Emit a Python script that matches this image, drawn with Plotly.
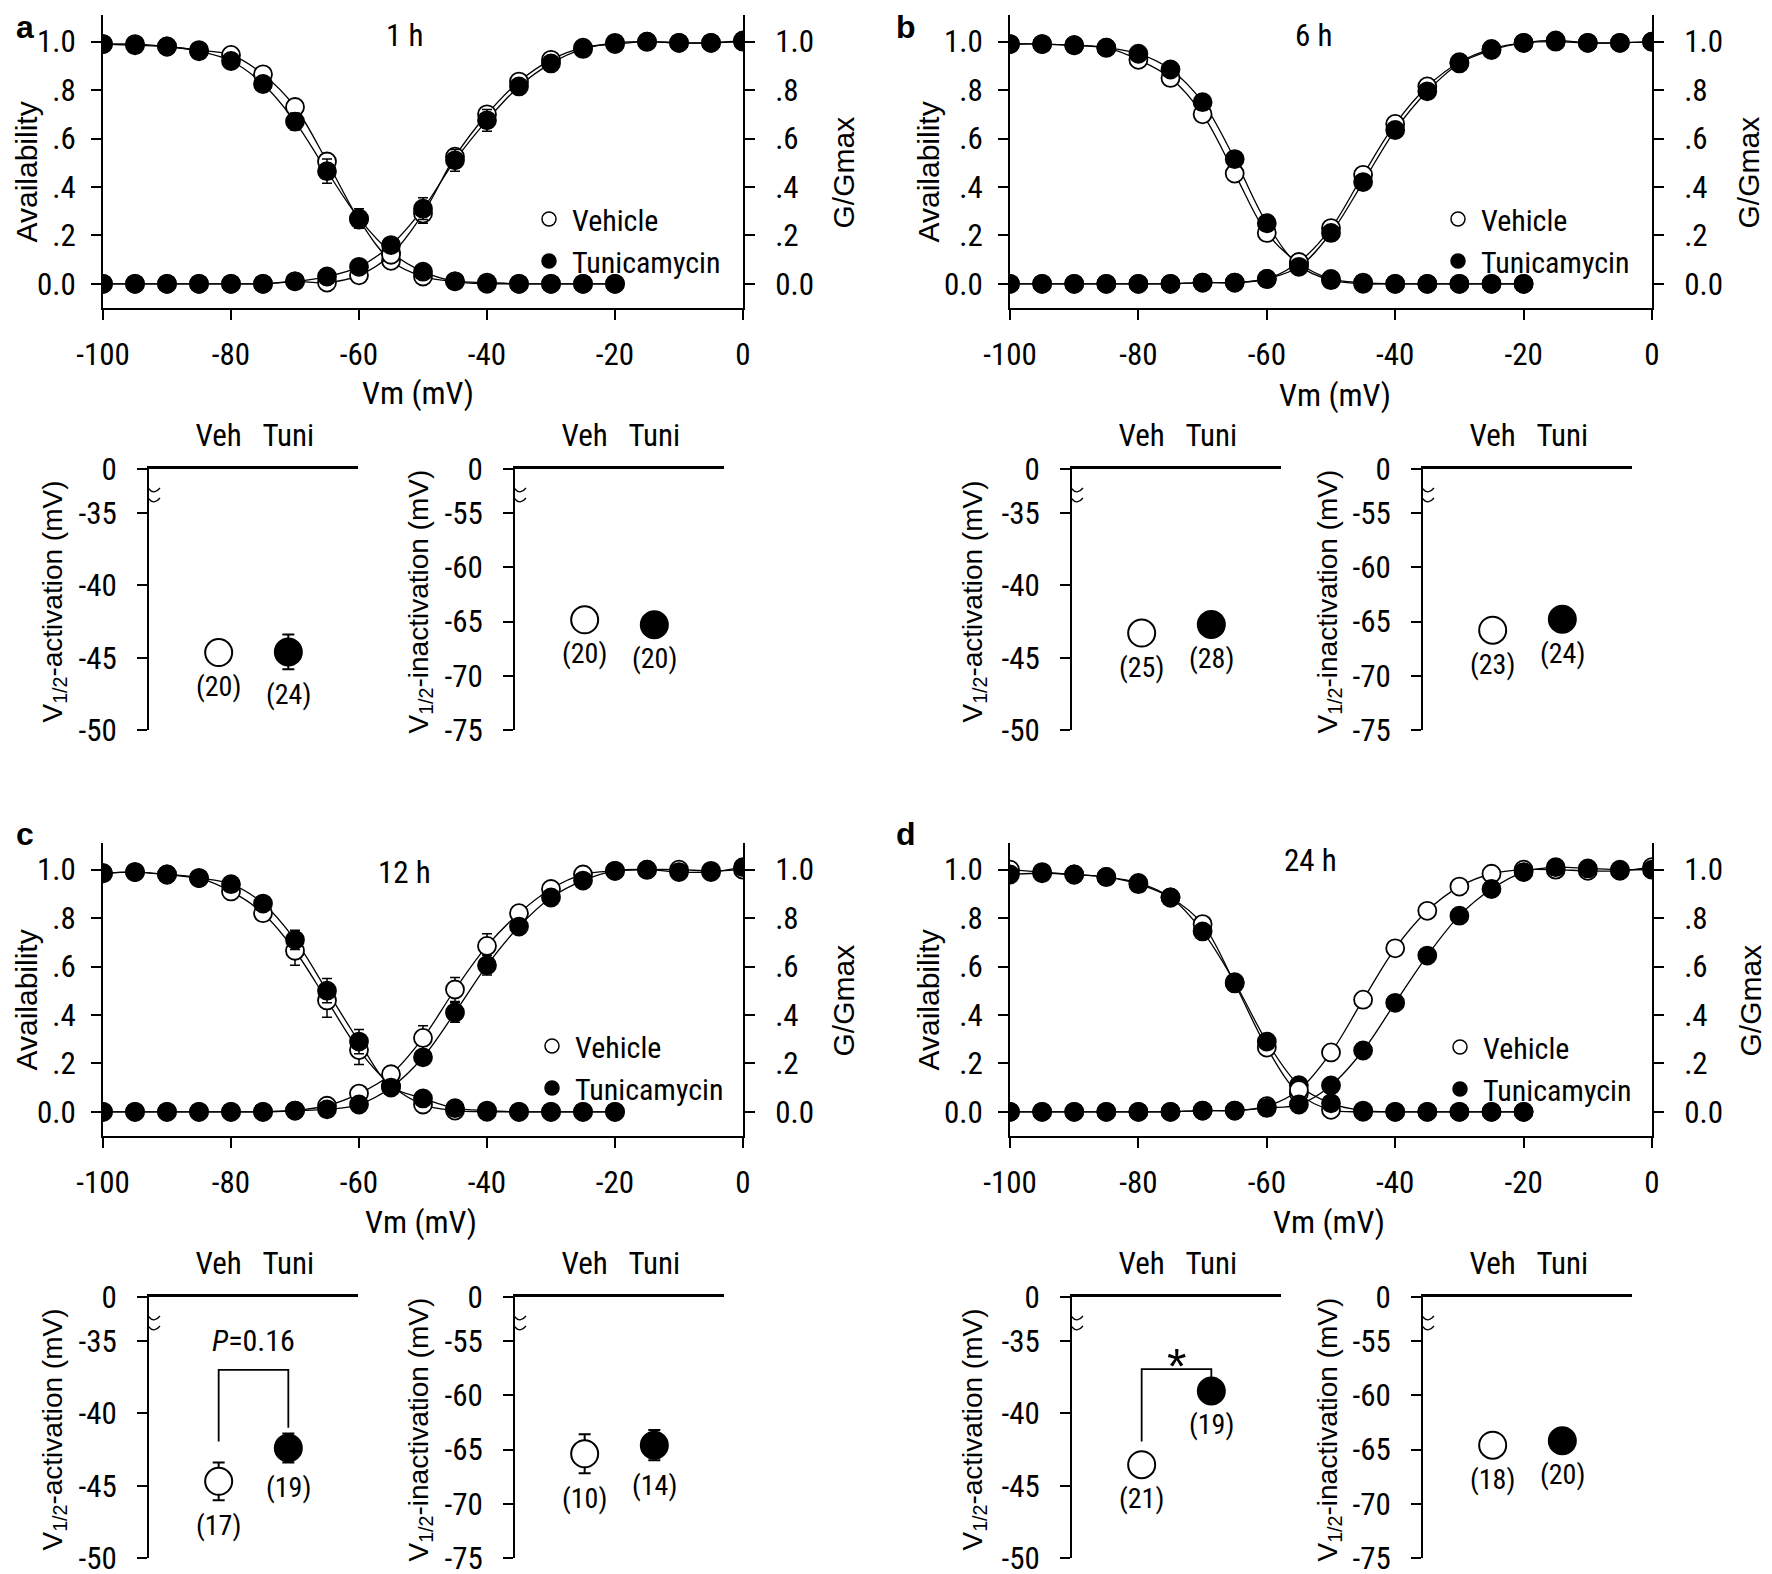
import plotly.graph_objects as go

W, H = 1772, 1574
OFF = 8  # page body margin of the saved html page
NARROW = "'Roboto Condensed', 'DejaVu Sans Condensed', 'Liberation Sans', sans-serif"
REG = "'Liberation Sans', Arial, sans-serif"

# ---------------- data: steady-state curves ----------------
V_INACT = [-100, -95, -90, -85, -80, -75, -70, -65, -60, -55, -50, -45, -40, -35, -30, -25, -20]
V_ACT = [-100, -95, -90, -85, -80, -75, -70, -65, -60, -55, -50, -45, -40, -35, -30, -25, -20, -15, -10, -5, 0]
X_TICKS = [-100, -80, -60, -40, -20, 0]
X_TICKTEXT = ["-100", "-80", "-60", "-40", "-20", "0"]
Y_TICKS = [0.0, 0.2, 0.4, 0.6, 0.8, 1.0]
Y_TICKTEXT = ["0.0", ".2", ".4", ".6", ".8", "1.0"]

# 1 h
inact_veh_1h = [0.99, 0.99, 0.98, 0.965, 0.945, 0.865, 0.73, 0.505, 0.265, 0.095, 0.03, 0.01, 0.005, 0, 0, 0, 0]
inact_veh_1h_err = [0, 0, 0, 0, 0, 0, 0.02, 0.03, 0.035, 0, 0, 0, 0, 0, 0, 0, 0]
inact_tuni_1h = [0.99, 0.985, 0.98, 0.96, 0.92, 0.825, 0.67, 0.465, 0.27, 0.13, 0.05, 0.01, 0.0, 0, 0, 0, 0]
inact_tuni_1h_err = [0, 0, 0, 0, 0, 0.015, 0.035, 0.05, 0.04, 0, 0, 0, 0, 0, 0, 0, 0]
act_veh_1h = [0, 0, 0, 0, 0, 0, 0.01, 0.005, 0.035, 0.12, 0.29, 0.525, 0.70, 0.835, 0.925, 0.975, 0.99, 1.0, 0.995, 0.995, 1.0]
act_veh_1h_err = [0, 0, 0, 0, 0, 0, 0, 0, 0, 0, 0.04, 0.03, 0.02, 0.01, 0, 0, 0, 0, 0, 0, 0]
act_tuni_1h = [0, 0, 0, 0, 0, 0, 0.01, 0.03, 0.07, 0.16, 0.31, 0.51, 0.675, 0.815, 0.91, 0.97, 0.995, 1.0, 0.995, 0.995, 1.005]
act_tuni_1h_err = [0, 0, 0, 0, 0, 0, 0, 0, 0, 0, 0.045, 0.045, 0.045, 0.03, 0.01, 0, 0, 0, 0, 0, 0]

# 6 h
inact_veh_6h = [0.99, 0.99, 0.985, 0.975, 0.925, 0.85, 0.70, 0.455, 0.21, 0.085, 0.02, 0.005, 0, 0, 0, 0, 0]
inact_veh_6h_err = [0] * 17
inact_tuni_6h = [0.99, 0.99, 0.985, 0.975, 0.95, 0.885, 0.75, 0.515, 0.25, 0.075, 0.015, 0.0, 0, 0, 0, 0, 0]
inact_tuni_6h_err = [0] * 17
act_veh_6h = [0, 0, 0, 0, 0, 0, 0.005, 0.005, 0.02, 0.09, 0.23, 0.45, 0.66, 0.815, 0.915, 0.97, 0.995, 1.0, 0.995, 0.995, 1.0]
act_veh_6h_err = [0] * 21
act_tuni_6h = [0, 0, 0, 0, 0, 0, 0.005, 0.005, 0.02, 0.07, 0.21, 0.42, 0.635, 0.795, 0.91, 0.965, 0.995, 1.005, 0.995, 0.995, 1.0]
act_tuni_6h_err = [0] * 21

# 12 h
inact_veh_12h = [0.985, 0.99, 0.98, 0.965, 0.91, 0.82, 0.665, 0.46, 0.255, 0.11, 0.03, 0.005, 0, 0, 0, 0, 0]
inact_veh_12h_err = [0, 0, 0, 0, 0.01, 0.03, 0.06, 0.07, 0.06, 0, 0, 0, 0, 0, 0, 0, 0]
inact_tuni_12h = [0.985, 0.99, 0.98, 0.965, 0.94, 0.86, 0.71, 0.50, 0.29, 0.105, 0.055, 0.015, 0.005, 0, 0, 0, 0]
inact_tuni_12h_err = [0, 0, 0, 0, 0.01, 0.02, 0.04, 0.05, 0.05, 0, 0, 0, 0, 0, 0, 0, 0]
act_veh_12h = [0, 0, 0, 0, 0, 0, 0.005, 0.025, 0.075, 0.155, 0.305, 0.505, 0.685, 0.82, 0.92, 0.98, 0.995, 1.0, 1.0, 0.995, 1.0]
act_veh_12h_err = [0, 0, 0, 0, 0, 0, 0, 0, 0, 0.03, 0.05, 0.05, 0.05, 0.03, 0.01, 0, 0, 0, 0, 0, 0]
act_tuni_12h = [0, 0, 0, 0, 0, 0, 0.005, 0.01, 0.03, 0.10, 0.225, 0.41, 0.605, 0.765, 0.885, 0.955, 0.995, 1.0, 0.99, 0.99, 1.01]
act_tuni_12h_err = [0, 0, 0, 0, 0, 0, 0, 0, 0, 0, 0.02, 0.04, 0.04, 0.03, 0.01, 0, 0, 0, 0, 0, 0]

# 24 h
inact_veh_24h = [1.0, 0.99, 0.98, 0.97, 0.94, 0.885, 0.775, 0.53, 0.265, 0.075, 0.008, 0.0, 0, 0, 0, 0, 0]
inact_veh_24h_err = [0, 0, 0, 0, 0, 0, 0.01, 0.03, 0.03, 0, 0, 0, 0, 0, 0, 0, 0]
inact_tuni_24h = [0.98, 0.985, 0.98, 0.97, 0.945, 0.885, 0.745, 0.535, 0.29, 0.11, 0.035, 0.005, 0, 0, 0, 0, 0]
inact_tuni_24h_err = [0, 0, 0, 0, 0, 0, 0.015, 0.03, 0.03, 0, 0, 0, 0, 0, 0, 0, 0]
act_veh_24h = [0, 0, 0, 0, 0, 0, 0.005, 0.005, 0.023, 0.09, 0.245, 0.463, 0.675, 0.83, 0.93, 0.983, 1.0, 1.0, 0.995, 0.995, 1.01]
act_veh_24h_err = [0, 0, 0, 0, 0, 0, 0, 0, 0, 0, 0.02, 0.03, 0.02, 0.01, 0, 0, 0, 0, 0, 0, 0]
act_tuni_24h = [0, 0, 0, 0, 0, 0, 0.005, 0.005, 0.016, 0.03, 0.109, 0.253, 0.45, 0.645, 0.81, 0.92, 0.99, 1.01, 1.005, 1.0, 1.0]
act_tuni_24h_err = [0, 0, 0, 0, 0, 0, 0, 0, 0, 0, 0.01, 0.015, 0.015, 0.01, 0.01, 0, 0, 0, 0, 0, 0]

# ---------------- data: V1/2 summaries ----------------
GROUPS = ["Veh", "Tuni"]
GROUP_POS = [1, 2]
ACT_TICKS = [-50, -45, -40, -35]
INACT_TICKS = [-75, -70, -65, -60, -55]

v_act_1h = [-44.65, -44.6];   v_act_1h_err = [0.6, 1.2];   n_act_1h = ["(20)", "(24)"]
v_inact_1h = [-64.85, -65.3]; v_inact_1h_err = [0.6, 0.6]; n_inact_1h = ["(20)", "(20)"]
v_act_6h = [-43.3, -42.7];    v_act_6h_err = [0.6, 0.6];   n_act_6h = ["(25)", "(28)"]
v_inact_6h = [-65.8, -64.8];  v_inact_6h_err = [0.8, 0.8]; n_inact_6h = ["(23)", "(24)"]
v_act_12h = [-44.7, -42.4];   v_act_12h_err = [1.3, 1.0];  n_act_12h = ["(17)", "(19)"]
v_inact_12h = [-65.4, -64.6]; v_inact_12h_err = [1.8, 1.4]; n_inact_12h = ["(10)", "(14)"]
v_act_24h = [-43.55, -38.45]; v_act_24h_err = [0.6, 0.6]; n_act_24h = ["(21)", "(19)"]
v_inact_24h = [-64.6, -64.2]; v_inact_24h_err = [0.8, 0.8]; n_inact_24h = ["(18)", "(20)"]

# significance annotations: [label, bracket level, left leg end, right leg end]
sig_12h = ["<i>P</i>=0.16", -37.0, -41.95, -41.0]
sig_24h = ["*", -36.95, -41.95, -37.6]

# ---------------- layout helpers ----------------
layout = dict(width=W, height=H, margin=dict(l=0, r=0, t=0, b=0, pad=0, autoexpand=False), autosize=False,
              paper_bgcolor="white", plot_bgcolor="rgba(0,0,0,0)", showlegend=True,
              shapes=[], annotations=[])
axis_count = {"x": 0, "y": 0}


def new_axis(kind):
    axis_count[kind] += 1
    n = axis_count[kind]
    ref = kind if n == 1 else f"{kind}{n}"
    key = f"{kind}axis" if n == 1 else f"{kind}axis{n}"
    return ref, key


def fx(x):
    return (x - OFF) / W


def fy(y):
    return 1 - (y - OFF) / H


def dom_x(x0, x1):
    return [fx(x0), fx(x1)]


def dom_y(y0, y1):
    return [fy(y1), fy(y0)]


def ann(text, x, y, size, family=NARROW, angle=0, xanchor="center", yanchor="middle"):
    layout["annotations"].append(dict(text=text, x=fx(x), y=fy(y), xref="paper", yref="paper",
                                      showarrow=False, textangle=angle, xanchor=xanchor, yanchor=yanchor,
                                      font=dict(size=size, family=family, color="black")))


AX_COMMON = dict(showgrid=False, zeroline=False, showline=True, linecolor="black", linewidth=2,
                 ticks="outside", ticklen=10, tickwidth=2, tickcolor="black", automargin=False,
                 tickfont=dict(family=NARROW, size=31, color="black"), fixedrange=True)

fig = go.Figure()

MAIN = [
    dict(letter="a", title="1 h", xpx=(103, 743), ypx=(15, 308),
         letter_xy=(25, 27), title_xy=(404, 36), avail_x=26, gg_x=843, vm_xy=(418, 393), leg_xy=(548, 220),
         data=(inact_veh_1h, inact_veh_1h_err, inact_tuni_1h, inact_tuni_1h_err,
               act_veh_1h, act_veh_1h_err, act_tuni_1h, act_tuni_1h_err)),
    dict(letter="b", title="6 h", xpx=(1010, 1652), ypx=(15, 308),
         letter_xy=(906, 27), title_xy=(1313, 36), avail_x=928, gg_x=1748, vm_xy=(1335, 395), leg_xy=(1457, 220),
         data=(inact_veh_6h, inact_veh_6h_err, inact_tuni_6h, inact_tuni_6h_err,
               act_veh_6h, act_veh_6h_err, act_tuni_6h, act_tuni_6h_err)),
    dict(letter="c", title="12 h", xpx=(103, 743), ypx=(843, 1136),
         letter_xy=(25, 834), title_xy=(404, 872), avail_x=26, gg_x=843, vm_xy=(421, 1222), leg_xy=(551, 1047),
         data=(inact_veh_12h, inact_veh_12h_err, inact_tuni_12h, inact_tuni_12h_err,
               act_veh_12h, act_veh_12h_err, act_tuni_12h, act_tuni_12h_err)),
    dict(letter="d", title="24 h", xpx=(1010, 1652), ypx=(843, 1136),
         letter_xy=(906, 834), title_xy=(1310, 860), avail_x=928, gg_x=1750, vm_xy=(1329, 1222), leg_xy=(1459, 1048),
         data=(inact_veh_24h, inact_veh_24h_err, inact_tuni_24h, inact_tuni_24h_err,
               act_veh_24h, act_veh_24h_err, act_tuni_24h, act_tuni_24h_err)),
]

YR_MAIN = [-0.1, 1.11]

for i, p in enumerate(MAIN):
    xref, xkey = new_axis("x")
    yref, ykey = new_axis("y")
    y2ref, y2key = new_axis("y")
    layout[xkey] = dict(AX_COMMON, domain=dom_x(*p["xpx"]), anchor=yref, range=[-100, 0],
                        tickvals=X_TICKS, ticktext=X_TICKTEXT, ticklabelstandoff=8)
    layout[ykey] = dict(AX_COMMON, domain=dom_y(*p["ypx"]), anchor=xref, range=YR_MAIN,
                        tickvals=Y_TICKS, ticktext=Y_TICKTEXT, ticklabelstandoff=9)
    layout[y2key] = dict(AX_COMMON, overlaying=yref, side="right", anchor=xref, range=YR_MAIN,
                         tickvals=Y_TICKS, ticktext=Y_TICKTEXT, ticklabelstandoff=14)
    iv, iv_e, it, it_e, av, av_e, at, at_e = p["data"]
    curves = [(V_INACT, iv, iv_e, yref, False), (V_INACT, it, it_e, yref, True),
              (V_ACT, av, av_e, y2ref, False), (V_ACT, at, at_e, y2ref, True)]
    for xs, ys, es, yr, filled in curves:
        fig.add_trace(go.Scatter(x=xs, y=ys, mode="lines", xaxis=xref, yaxis=yr, showlegend=False,
                                 line=dict(color="black", width=1.3, shape="spline", smoothing=1.0),
                                 hoverinfo="skip"))
    for xs, ys, es, yr, filled in curves:
        fig.add_trace(go.Scatter(x=xs, y=ys, mode="markers", xaxis=xref, yaxis=yr, showlegend=False,
                                 marker=dict(size=18, color="black" if filled else "white",
                                             line=dict(color="black", width=1.8)),
                                 error_y=dict(type="data", array=es, visible=True, color="black",
                                              thickness=1.5, width=5)))
    leg = "legend" if i == 0 else f"legend{i + 1}"
    for name, filled in [("Vehicle", False), ("Tunicamycin", True)]:
        fig.add_trace(go.Scatter(x=[None], y=[None], mode="markers", xaxis=xref, yaxis=yref, name=name,
                                 legend=leg, showlegend=True,
                                 marker=dict(size=14, color="black" if filled else "white",
                                             line=dict(color="black", width=1.5))))
    lx, ly = p["leg_xy"]
    layout[leg] = dict(x=fx(lx - 22), y=fy(ly - 27), xanchor="left", yanchor="top",
                       bgcolor="rgba(0,0,0,0)", borderwidth=0, itemsizing="trace",
                       font=dict(family=NARROW, size=30, color="black"), tracegroupgap=0, itemwidth=36)
    ann(f"<b>{p['letter']}</b>", p["letter_xy"][0], p["letter_xy"][1], 32, REG)
    ann(p["title"], p["title_xy"][0], p["title_xy"][1], 31)
    ymid = (p["ypx"][0] + p["ypx"][1]) / 2 + 11
    ann("Availability", p["avail_x"], ymid, 30, REG, angle=-90)
    ann("G/Gmax", p["gg_x"], ymid, 30, REG, angle=-90)
    ann("Vm (mV)", p["vm_xy"][0], p["vm_xy"][1], 32)

# ---------------- small V1/2 panels ----------------
SMALL = [
    dict(kind="act", xpx=(149, 358), ypx=(469, 730), vals=v_act_1h, errs=v_act_1h_err, ns=n_act_1h, tx=54, sig=None),
    dict(kind="inact", xpx=(515, 724), ypx=(469, 730), vals=v_inact_1h, errs=v_inact_1h_err, ns=n_inact_1h, tx=420, sig=None),
    dict(kind="act", xpx=(1072, 1281), ypx=(469, 730), vals=v_act_6h, errs=v_act_6h_err, ns=n_act_6h, tx=974, sig=None),
    dict(kind="inact", xpx=(1423, 1632), ypx=(469, 730), vals=v_inact_6h, errs=v_inact_6h_err, ns=n_inact_6h, tx=1329, sig=None),
    dict(kind="act", xpx=(149, 358), ypx=(1297, 1558), vals=v_act_12h, errs=v_act_12h_err, ns=n_act_12h, tx=54, sig=sig_12h),
    dict(kind="inact", xpx=(515, 724), ypx=(1297, 1558), vals=v_inact_12h, errs=v_inact_12h_err, ns=n_inact_12h, tx=420, sig=None),
    dict(kind="act", xpx=(1072, 1281), ypx=(1297, 1558), vals=v_act_24h, errs=v_act_24h_err, ns=n_act_24h, tx=974, sig=sig_24h),
    dict(kind="inact", xpx=(1423, 1632), ypx=(1297, 1558), vals=v_inact_24h, errs=v_inact_24h_err, ns=n_inact_24h, tx=1329, sig=None),
]

for s in SMALL:
    ticks = ACT_TICKS if s["kind"] == "act" else INACT_TICKS
    lo, hi = ticks[0], ticks[-1]
    hpx = s["ypx"][1] - s["ypx"][0]
    scale_px = 217.0
    top = lo + (hi - lo) * hpx / scale_px
    px_per_unit = scale_px / (hi - lo)
    xref, xkey = new_axis("x")
    yref, ykey = new_axis("y")
    layout[xkey] = dict(AX_COMMON, domain=dom_x(*s["xpx"]), anchor=yref, side="top", range=[0, 3],
                        tickvals=GROUP_POS, ticktext=GROUPS, ticks="", linewidth=2.5, ticklabelstandoff=8)
    layout[ykey] = dict(AX_COMMON, domain=dom_y(*s["ypx"]), anchor=xref, range=[lo, top],
                        tickvals=ticks + [top], ticktext=[str(t) for t in ticks] + ["0"], ticklabelstandoff=14)
    fills = ["white", "black"]
    for g in range(2):
        fig.add_trace(go.Scatter(x=[GROUP_POS[g]], y=[s["vals"][g]], mode="markers", xaxis=xref, yaxis=yref,
                                 showlegend=False,
                                 marker=dict(size=27, color=fills[g], line=dict(color="black", width=2)),
                                 error_y=dict(type="data", array=[s["errs"][g]], visible=True, color="black",
                                              thickness=2, width=6)))
        shift = max(34, s["errs"][g] * px_per_unit + 25)
        layout["annotations"].append(dict(text=s["ns"][g], x=GROUP_POS[g], y=s["vals"][g], xref=xref, yref=yref,
                                          showarrow=False, yshift=-shift, yanchor="middle",
                                          font=dict(family=NARROW, size=28, color="black")))
    # axis break marks on the y axis
    ybreak = top - (top - lo) * 25 / hpx
    layout["shapes"].append(dict(type="path", xref=xref, yref=yref, xsizemode="pixel", ysizemode="pixel",
                                 xanchor=0, yanchor=ybreak, path="M -2,-4 L 2,-4 L 2,4 L -2,4 Z",
                                 fillcolor="white", line=dict(width=0), layer="above"))
    for dyp in (5, -5):
        layout["shapes"].append(dict(type="path", xref=xref, yref=yref, xsizemode="pixel", ysizemode="pixel",
                                     xanchor=0, yanchor=ybreak,
                                     path=f"M -11,{dyp - 1} C -7,{dyp + 4} -3,{dyp + 4} 0,{dyp} C 3,{dyp - 4} 7,{dyp - 4} 11,{dyp + 1}",
                                     line=dict(color="black", width=1.3), layer="above"))
    title = "V<sub>1/2</sub>-activation (mV)" if s["kind"] == "act" else "V<sub>1/2</sub>-inactivation (mV)"
    ann(title, s["tx"], (s["ypx"][0] + s["ypx"][1]) / 2 + 2, 28, REG, angle=-90)
    if s["sig"]:
        label, level, l_end, r_end = s["sig"]
        layout["shapes"].append(dict(type="path", xref=xref, yref=yref,
                                     path=f"M {GROUP_POS[0]},{l_end} L {GROUP_POS[0]},{level} L {GROUP_POS[1]},{level} L {GROUP_POS[1]},{r_end}",
                                     line=dict(color="black", width=1.8)))
        if label == "*":
            layout["annotations"].append(dict(text=label, x=sum(GROUP_POS) / 2, y=level, xref=xref, yref=yref,
                                              showarrow=False, yshift=2, yanchor="middle",
                                              font=dict(family=REG, size=50, color="black")))
        else:
            layout["annotations"].append(dict(text=label, x=sum(GROUP_POS) / 2, y=level, xref=xref, yref=yref,
                                              showarrow=False, yshift=29, yanchor="middle",
                                              font=dict(family=NARROW, size=30, color="black")))

fig.update_layout(**layout)
fig.write_html("out.html")
